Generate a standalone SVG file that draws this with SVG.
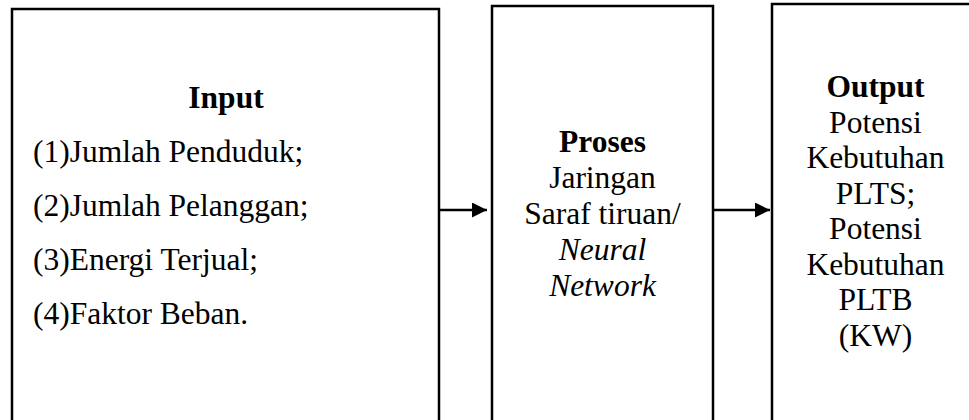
<svg xmlns="http://www.w3.org/2000/svg" width="969" height="420" viewBox="0 0 969 420">
<defs>
<style>
.box{fill:#fff;stroke:#000;stroke-width:2.5}
text{font-family:"Liberation Serif","Times New Roman",serif;font-size:31.5px;fill:#000}
.c{text-anchor:middle}
.b{font-weight:bold}
.i{font-style:italic}
.conn{stroke:#000;stroke-width:2.5;fill:none}
</style>
<marker id="ah" viewBox="0 0 10 10" refX="10" refY="5" markerWidth="6" markerHeight="6" markerUnits="strokeWidth" orient="auto">
<path d="M0,0 L10,5 L0,10 Z" fill="#000"/>
</marker>
</defs>
<rect width="969" height="420" fill="#fff"/>
<g id="input">
<rect class="box" x="12" y="9" width="427" height="430"/>
<text class="c b" x="226" y="108">Input</text>
<text x="33" y="162">(1)Jumlah Penduduk;</text>
<text x="33" y="216">(2)Jumlah Pelanggan;</text>
<text x="33" y="270">(3)Energi Terjual;</text>
<text x="33" y="324">(4)Faktor Beban.</text>
</g>
<g id="proses">
<rect class="box" x="492" y="6" width="221" height="430"/>
<text class="c b" x="602.5" y="152">Proses</text>
<text class="c" x="602.5" y="188">Jaringan</text>
<text class="c" x="602.5" y="224">Saraf tiruan/</text>
<text class="c i" x="602.5" y="260">Neural</text>
<text class="c i" x="602.5" y="296">Network</text>
</g>
<g id="output">
<rect class="box" x="772" y="4" width="210" height="430"/>
<text class="c b" x="875.5" y="97">Output</text>
<text class="c" x="875.5" y="132.5">Potensi</text>
<text class="c" x="875.5" y="168">Kebutuhan</text>
<text class="c" x="875.5" y="203.5">PLTS;</text>
<text class="c" x="875.5" y="239">Potensi</text>
<text class="c" x="875.5" y="274.5">Kebutuhan</text>
<text class="c" x="875.5" y="310">PLTB</text>
<text class="c" x="875.5" y="345.5">(KW)</text>
</g>
<g id="connectors">
<line class="conn" x1="440" y1="210" x2="487" y2="210" marker-end="url(#ah)"/>
<line class="conn" x1="713" y1="210" x2="770" y2="210" marker-end="url(#ah)"/>
</g>
</svg>
